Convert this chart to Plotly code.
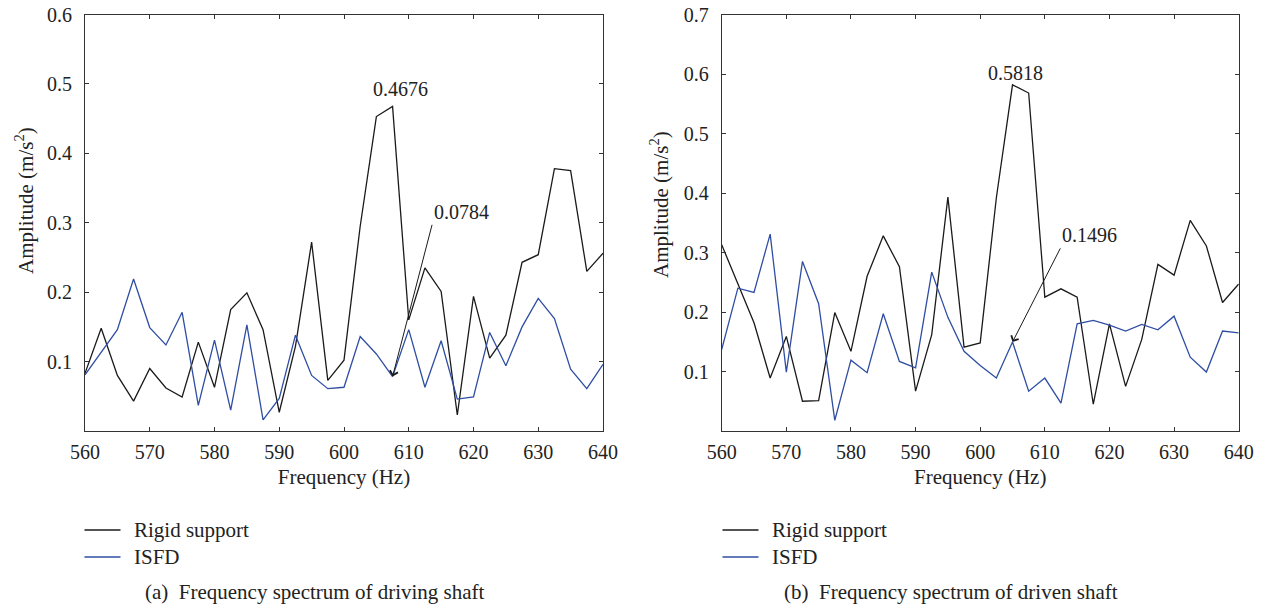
import plotly.graph_objects as go
from plotly.subplots import make_subplots

freq = [560 + 2.5 * i for i in range(33)]

driving_rigid = [0.083, 0.148, 0.080, 0.043, 0.090, 0.062, 0.049, 0.128, 0.063, 0.175, 0.199,
                 0.146, 0.027, 0.122, 0.272, 0.073, 0.102, 0.295, 0.453, 0.4676, 0.160, 0.235,
                 0.201, 0.023, 0.194, 0.105, 0.138, 0.243, 0.254, 0.378, 0.375, 0.230, 0.256]
driving_isfd = [0.081, 0.114, 0.146, 0.219, 0.149, 0.124, 0.171, 0.037, 0.131, 0.030, 0.153,
                0.016, 0.047, 0.138, 0.080, 0.061, 0.063, 0.136, 0.111, 0.0784, 0.146, 0.063,
                0.130, 0.046, 0.049, 0.142, 0.094, 0.150, 0.191, 0.162, 0.089, 0.061, 0.096]

driven_rigid = [0.313, 0.249, 0.182, 0.089, 0.159, 0.050, 0.051, 0.199, 0.134, 0.260, 0.328,
                0.276, 0.067, 0.162, 0.393, 0.141, 0.148, 0.392, 0.5818, 0.568, 0.225, 0.239,
                0.225, 0.045, 0.180, 0.075, 0.154, 0.280, 0.262, 0.354, 0.311, 0.216, 0.247]
driven_isfd = [0.137, 0.240, 0.233, 0.331, 0.099, 0.285, 0.214, 0.018, 0.119, 0.098, 0.197,
               0.117, 0.106, 0.267, 0.191, 0.134, 0.110, 0.089, 0.1496, 0.067, 0.089, 0.047,
               0.180, 0.186, 0.178, 0.168, 0.179, 0.170, 0.193, 0.124, 0.099, 0.168, 0.165]

x_ticks = [560, 570, 580, 590, 600, 610, 620, 630, 640]
y_ticks_a = [0.1, 0.2, 0.3, 0.4, 0.5, 0.6]
y_ticks_b = [0.1, 0.2, 0.3, 0.4, 0.5, 0.6, 0.7]
series_names = ["Rigid support", "ISFD"]
captions = ["(a)  Frequency spectrum of driving shaft", "(b)  Frequency spectrum of driven shaft"]
x_title = "Frequency (Hz)"
y_title = "Amplitude (m/s<sup>2</sup>)"

BLACK = "#1a1a1a"
BLUE = "#2f4ea3"
TXT = "#222222"
FONT = "Liberation Serif, Times New Roman, serif"
W, H = 1264, 608

fig = make_subplots(rows=1, cols=2)

fig.add_trace(go.Scatter(x=freq, y=driving_rigid, mode="lines", name=series_names[0],
                         line=dict(color=BLACK, width=1.3), showlegend=False), row=1, col=1)
fig.add_trace(go.Scatter(x=freq, y=driving_isfd, mode="lines", name=series_names[1],
                         line=dict(color=BLUE, width=1.3), showlegend=False), row=1, col=1)
fig.add_trace(go.Scatter(x=freq, y=driven_rigid, mode="lines", name=series_names[0],
                         line=dict(color=BLACK, width=1.3), showlegend=False), row=1, col=2)
fig.add_trace(go.Scatter(x=freq, y=driven_isfd, mode="lines", name=series_names[1],
                         line=dict(color=BLUE, width=1.3), showlegend=False), row=1, col=2)

def px_x(p):
    return p / W

def px_y(p):
    return 1 - p / H

nf = dict(family=FONT, size=20, color=TXT)   # numbers
tf = dict(family=FONT, size=21, color=TXT)   # words
ydom = [px_y(431), px_y(14.5)]
axis_common = dict(showgrid=False, zeroline=False, showline=True, linecolor="#333333",
                   linewidth=1, mirror="ticks", ticks="inside", ticklen=4, tickcolor="#333333",
                   tickfont=nf, automargin=False)

fig.update_xaxes(axis_common, range=[560, 640], tickvals=x_ticks, ticklabelstandoff=3,
                 title=dict(text=x_title, font=tf, standoff=7))
fig.update_xaxes(domain=[px_x(85), px_x(603)], row=1, col=1)
fig.update_xaxes(domain=[px_x(721.7), px_x(1238.7)], row=1, col=2)

fig.update_yaxes(axis_common, domain=ydom, ticklabelstandoff=8)
fig.update_yaxes(range=[0, 0.6], tickvals=y_ticks_a, ticktext=[f"{v:.1f}" for v in y_ticks_a],
                 row=1, col=1)
fig.update_yaxes(range=[0, 0.7], tickvals=y_ticks_b, ticktext=[f"{v:.1f}" for v in y_ticks_b],
                 row=1, col=2)

ann = []
# y axis titles
for cx, cy in [(24, 201), (659, 205)]:
    ann.append(dict(x=px_x(cx), y=px_y(cy), xref="paper", yref="paper", text=y_title,
                    textangle=-90, showarrow=False, xanchor="center", yanchor="middle", font=tf))
# peak labels
ann.append(dict(x=freq[19], y=driving_rigid[19], xref="x", yref="y", text=f"{driving_rigid[19]:.4f}",
                showarrow=False, xanchor="center", yanchor="middle", xshift=8, yshift=17, font=nf))
ann.append(dict(x=freq[18], y=driven_rigid[18], xref="x2", yref="y2", text=f"{driven_rigid[18]:.4f}",
                showarrow=False, xanchor="center", yanchor="middle", xshift=3, yshift=12, font=nf))
# arrow labels (text sits just above-right of the arrow tail)
tail_a = (613.6, 0.297)
tail_b = (612.4, 0.307)
ann.append(dict(x=freq[19], y=driving_isfd[19], xref="x", yref="y", ax=tail_a[0], ay=tail_a[1],
                axref="x", ayref="y", text=f"{driving_isfd[19]:.4f}", xanchor="left", yanchor="bottom",
                showarrow=True, arrowhead=4, arrowsize=1.6, arrowwidth=1, arrowcolor=BLACK, font=nf))
ann.append(dict(x=freq[18], y=driven_isfd[18], xref="x2", yref="y2", ax=tail_b[0], ay=tail_b[1],
                axref="x2", ayref="y2", text=f"{driven_isfd[18]:.4f}", xanchor="left", yanchor="bottom",
                showarrow=True, arrowhead=4, arrowsize=1.6, arrowwidth=1, arrowcolor=BLACK, font=nf))

shapes = []
# legends and captions
for left, txt_x, cap_x, cap in [(84.5, 131.5, 143, captions[0]), (722.5, 769.5, 781.5, captions[1])]:
    for name, color, yy in [(series_names[0], BLACK, 530), (series_names[1], BLUE, 557)]:
        shapes.append(dict(type="line", xref="paper", yref="paper", x0=px_x(left), x1=px_x(left + 36),
                           y0=px_y(yy), y1=px_y(yy), line=dict(color=color, width=1.3)))
        ann.append(dict(x=px_x(txt_x), y=px_y(yy), xref="paper", yref="paper", text=name,
                        showarrow=False, xanchor="left", yanchor="middle", font=tf))
    ann.append(dict(x=px_x(cap_x), y=px_y(592), xref="paper", yref="paper", text=cap,
                    showarrow=False, xanchor="left", yanchor="middle", font=tf))

fig.update_layout(width=W, height=H, margin=dict(l=0, r=0, t=0, b=0, autoexpand=False),
                  paper_bgcolor="white", plot_bgcolor="white",
                  annotations=ann, shapes=shapes, showlegend=False,
                  font=dict(family=FONT, color=TXT, size=20))

fig.write_html("out.html", config={"displayModeBar": False},
               post_script="document.body.style.margin='0px';")
